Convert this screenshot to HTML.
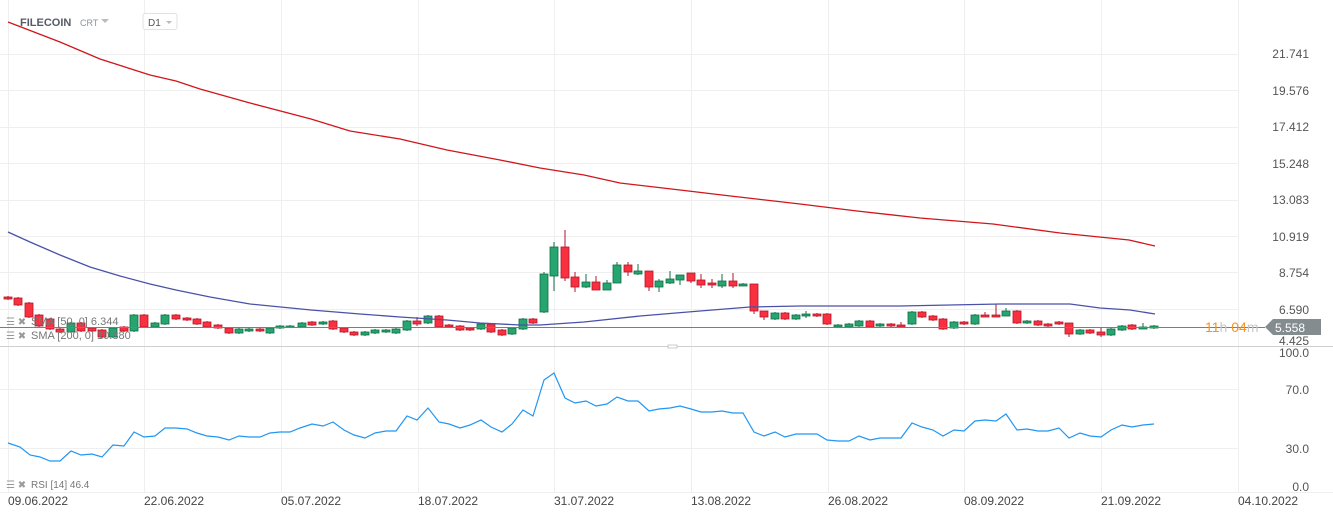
<!DOCTYPE html>
<html><head><meta charset="utf-8">
<style>
html,body{margin:0;padding:0;background:#fff;width:1333px;height:518px;overflow:hidden;font-family:"Liberation Sans",Arial,sans-serif}
svg text{font-family:"Liberation Sans",Arial,sans-serif}
</style></head><body>
<svg id="s" width="1333" height="518" xmlns="http://www.w3.org/2000/svg">
<g stroke="#efefef" stroke-width="1">
<line x1="0" y1="54.5" x2="1238" y2="54.5"/><line x1="0" y1="90.5" x2="1238" y2="90.5"/><line x1="0" y1="127.5" x2="1238" y2="127.5"/><line x1="0" y1="163.5" x2="1238" y2="163.5"/><line x1="0" y1="200.5" x2="1238" y2="200.5"/><line x1="0" y1="236.5" x2="1238" y2="236.5"/><line x1="0" y1="272.5" x2="1238" y2="272.5"/><line x1="0" y1="309.5" x2="1238" y2="309.5"/>
<line x1="0" y1="389.5" x2="1238" y2="389.5"/><line x1="0" y1="448.5" x2="1238" y2="448.5"/>
<line x1="8.5" y1="0" x2="8.5" y2="492"/><line x1="144.5" y1="0" x2="144.5" y2="492"/><line x1="281.5" y1="0" x2="281.5" y2="492"/><line x1="418.5" y1="0" x2="418.5" y2="492"/><line x1="554.5" y1="0" x2="554.5" y2="492"/><line x1="691.5" y1="0" x2="691.5" y2="492"/><line x1="828.5" y1="0" x2="828.5" y2="492"/><line x1="964.5" y1="0" x2="964.5" y2="492"/><line x1="1101.5" y1="0" x2="1101.5" y2="492"/><line x1="1238.5" y1="0" x2="1238.5" y2="492"/>
<line x1="0" y1="492.5" x2="1333" y2="492.5"/>
</g>
<line x1="0" y1="346.5" x2="1333" y2="346.5" stroke="#cfcfcf"/>
<rect x="668" y="345" width="9" height="3" fill="#fff" stroke="#aaa" stroke-width="0.6"/>
<g id="c"></g>
<polyline fill="none" stroke="#d0161b" stroke-width="1.3" points="8,22 60,42 100,59 150,75 176,81 200,89 250,103 311,119 350,131 400,139 447,150 500,160 540,168 584,175 620,183 680,190 722,195 800,204 857,211 920,218 993,224 1060,233 1129,240 1155,246"/>
<polyline fill="none" stroke="#4a52a8" stroke-width="1.3" points="8,232 30,242 60,255 90,267 120,276 150,284 176,290 210,297 250,304 311,310 360,314 400,317 447,320 480,323 520,325 540,325 584,322 640,316 700,311 750,307 800,306 900,306 1000,304 1070,304 1100,308 1130,310 1155,314"/>
<line x1="0" y1="327.5" x2="1265" y2="327.5" stroke="#7d7d7d" stroke-width="1"/>
<polyline fill="none" stroke="#2196f3" stroke-width="1.2" id="rsi" points=""/>
<g font-size="12" fill="#555">
<text x="1309" y="58" text-anchor="end">21.741</text>
<text x="1309" y="95" text-anchor="end">19.576</text>
<text x="1309" y="131" text-anchor="end">17.412</text>
<text x="1309" y="168" text-anchor="end">15.248</text>
<text x="1309" y="204" text-anchor="end">13.083</text>
<text x="1309" y="241" text-anchor="end">10.919</text>
<text x="1309" y="277" text-anchor="end">8.754</text>
<text x="1309" y="314" text-anchor="end">6.590</text>
<text x="1309" y="345" text-anchor="end">4.425</text>
<text x="1309" y="357" text-anchor="end">100.0</text>
<text x="1309" y="394" text-anchor="end">70.0</text>
<text x="1309" y="453" text-anchor="end">30.0</text>
<text x="1309" y="491" text-anchor="end">0.0</text>
</g>
<path d="M1265,327 L1273,319 L1321,319 L1321,335 L1273,335 Z" fill="#848c90"/>
<text x="1275" y="332" font-size="12" fill="#fff">5.558</text>
<text x="1205" y="332" font-size="14" fill="#f7931e">11<tspan fill="#c8c8c8">h</tspan> 04<tspan fill="#c8c8c8">m</tspan></text>
<g font-size="12" fill="#444">
<text x="8" y="505">09.06.2022</text><text x="144" y="505">22.06.2022</text><text x="281" y="505">05.07.2022</text><text x="418" y="505">18.07.2022</text><text x="554" y="505">31.07.2022</text><text x="691" y="505">13.08.2022</text><text x="828" y="505">26.08.2022</text><text x="964" y="505">08.09.2022</text><text x="1101" y="505">21.09.2022</text><text x="1238" y="505">04.10.2022</text>
</g>
<text x="20" y="26" font-size="11" font-weight="bold" fill="#555c66">FILECOIN</text>
<text x="80" y="26" font-size="9" fill="#8a939c">CRT</text>
<path d="M101,19 L109,19 L105,23 Z" fill="#bbb"/>
<rect x="143" y="13.5" width="34" height="16" rx="2" fill="#fff" stroke="#e2e2e2"/>
<text x="148" y="26" font-size="10" fill="#555">D1</text>
<path d="M166,21 L172,21 L169,24 Z" fill="#bbb"/>
<g font-size="11" fill="#777">
<text x="6" y="325" fill="#999" font-size="10">☰ ✖</text><text x="31" y="325">SMA [50, 0] 6.344</text>
<text x="6" y="339" fill="#999" font-size="10">☰ ✖</text><text x="31" y="339">SMA [200, 0] 10.880</text>
<text x="6" y="488" fill="#999" font-size="10">☰ ✖</text><text x="31" y="488" font-size="10">RSI [14] 46.4</text>
</g>
</svg>
<script>
var C=[[8,297,299,'r'],[18,298,305,'r'],[29,303,317,'r'],[39,315,326,'r'],[50,319,329,'r'],[60,329,332,'r'],[71,323,332,'g'],[81,323,331,'r'],[92,328,331,'r'],[102,330,337,'r'],[113,328,337,'g'],[124,327,331,'r'],[134,315,331,'g'],[144,315,327,'r'],[155,323,327,'g'],[165,315,324,'g'],[176,315,319,'r'],[187,318,320,'r'],[197,319,324,'r'],[207,322,327,'r'],[218,325,328,'r'],[229,328,333,'r'],[239,329,333,'g'],[249,329,331,'g'],[260,329,331,'r'],[270,328,333,'g'],[280,326,328,'g'],[290,326,327,'g'],[302,323,327,'g'],[312,322,325,'r'],[323,322,324,'g'],[333,321,329,'r'],[344,328,332,'r'],[354,332,335,'r'],[365,332,335,'g'],[375,330,333,'g'],[386,330,332,'g'],[396,329,333,'g'],[407,321,330,'g'],[417,321,324,'r',317,326],[428,316,323,'g'],[439,316,327,'r'],[449,325,327,'r'],[460,326,330,'r'],[470,328,330,'r'],[481,324,329,'g'],[491,324,332,'r'],[502,330,335,'r'],[512,328,334,'g'],[523,319,329,'g'],[533,319,323,'r'],[544,274,312,'g',272,313],[554,247,276,'g',242,291],[565,247,278,'r',230,281],[575,277,287,'r',272,292],[586,282,287,'g',274,288],[596,282,290,'r',276,290],[607,283,290,'g',280,290],[617,265,283,'g',262,283],[628,265,272,'r',262,276],[638,271,274,'g',264,275],[649,271,287,'r',271,291],[659,281,287,'g',279,292],[670,279,283,'g',271,284],[680,275,280,'g',275,285],[691,273,281,'r',273,283],[701,280,285,'r',274,288],[712,283,285,'r',279,288],[722,281,286,'g',274,288],[733,281,286,'r',273,288],[743,284,286,'g',283,286],[754,284,311,'r',284,314],[764,311,317,'r',311,320],[775,313,319,'g'],[785,313,319,'r'],[796,315,319,'g'],[806,314,316,'g',311,318],[817,314,316,'r'],[827,314,324,'r'],[838,325,327,'g'],[849,324,327,'g'],[859,321,326,'g'],[870,321,327,'r'],[880,324,326,'g'],[891,324,326,'r'],[901,325,327,'r',322,327],[912,312,324,'g'],[922,312,317,'r'],[933,316,320,'r'],[943,319,329,'r'],[954,322,328,'g'],[964,322,324,'r'],[975,315,324,'g'],[985,315,317,'r',312,317],[996,315,317,'r',304,317],[1006,311,316,'g',308,316],[1017,311,323,'r'],[1027,321,323,'g'],[1038,321,325,'r'],[1048,324,326,'r'],[1059,322,324,'r'],[1069,323,334,'r',323,337],[1080,330,334,'g'],[1090,330,333,'r'],[1101,332,335,'r',328,337],[1111,329,335,'g'],[1122,326,330,'g'],[1132,325,329,'r'],[1143,327,329,'g',323,329],[1154,326,328,'g']];
var g=document.getElementById('c'),h='';
C.forEach(function(c){var x=c[0],t=c[1],b=c[2],r=c[3]=='r',hi=c[4]||t-1,lo=c[5]||b+1;
var f=r?'#f8303f':'#27a571',s=r?'#b5162a':'#0f6e45';
h+='<line x1="'+x+'" y1="'+hi+'" x2="'+x+'" y2="'+lo+'" stroke="'+s+'"/>';
h+='<rect x="'+(x-4)+'" y="'+t+'" width="8" height="'+Math.max(b-t,1.5)+'" fill="'+f+'" stroke="'+s+'" stroke-width="0.8"/>';});
g.innerHTML=h;
document.getElementById('rsi').setAttribute('points',"8,443 20,447 30,455 40,457 50,461 60,461 71,451 81,455 92,454 102,457 113,445 124,446 134,432 144,437 155,436 165,428 176,428 187,429 197,433 207,436 218,437 229,440 239,436 249,437 260,437 270,433 280,432 290,432 300,428 312,424 323,426 333,422 344,430 354,435 365,438 375,433 386,431 396,431 407,416 417,420 428,408 439,422 449,424 460,428 470,425 481,420 491,427 502,432 512,424 523,410 533,416 544,380 554,373 565,398 575,403 586,401 596,406 607,404 617,397 628,401 638,401 649,411 659,409 670,408 680,406 691,409 701,412 712,412 722,411 733,413 743,413 754,432 764,436 775,432 785,437 796,434 806,434 817,434 827,440 838,441 849,441 859,436 870,440 880,438 891,438 901,438 912,423 922,427 933,430 943,436 954,430 964,431 975,421 985,420 996,421 1006,414 1017,430 1027,429 1038,431 1048,431 1059,428 1069,438 1080,433 1090,436 1101,437 1111,430 1122,425 1132,427 1143,425 1154,424");
</script>
</body></html>
